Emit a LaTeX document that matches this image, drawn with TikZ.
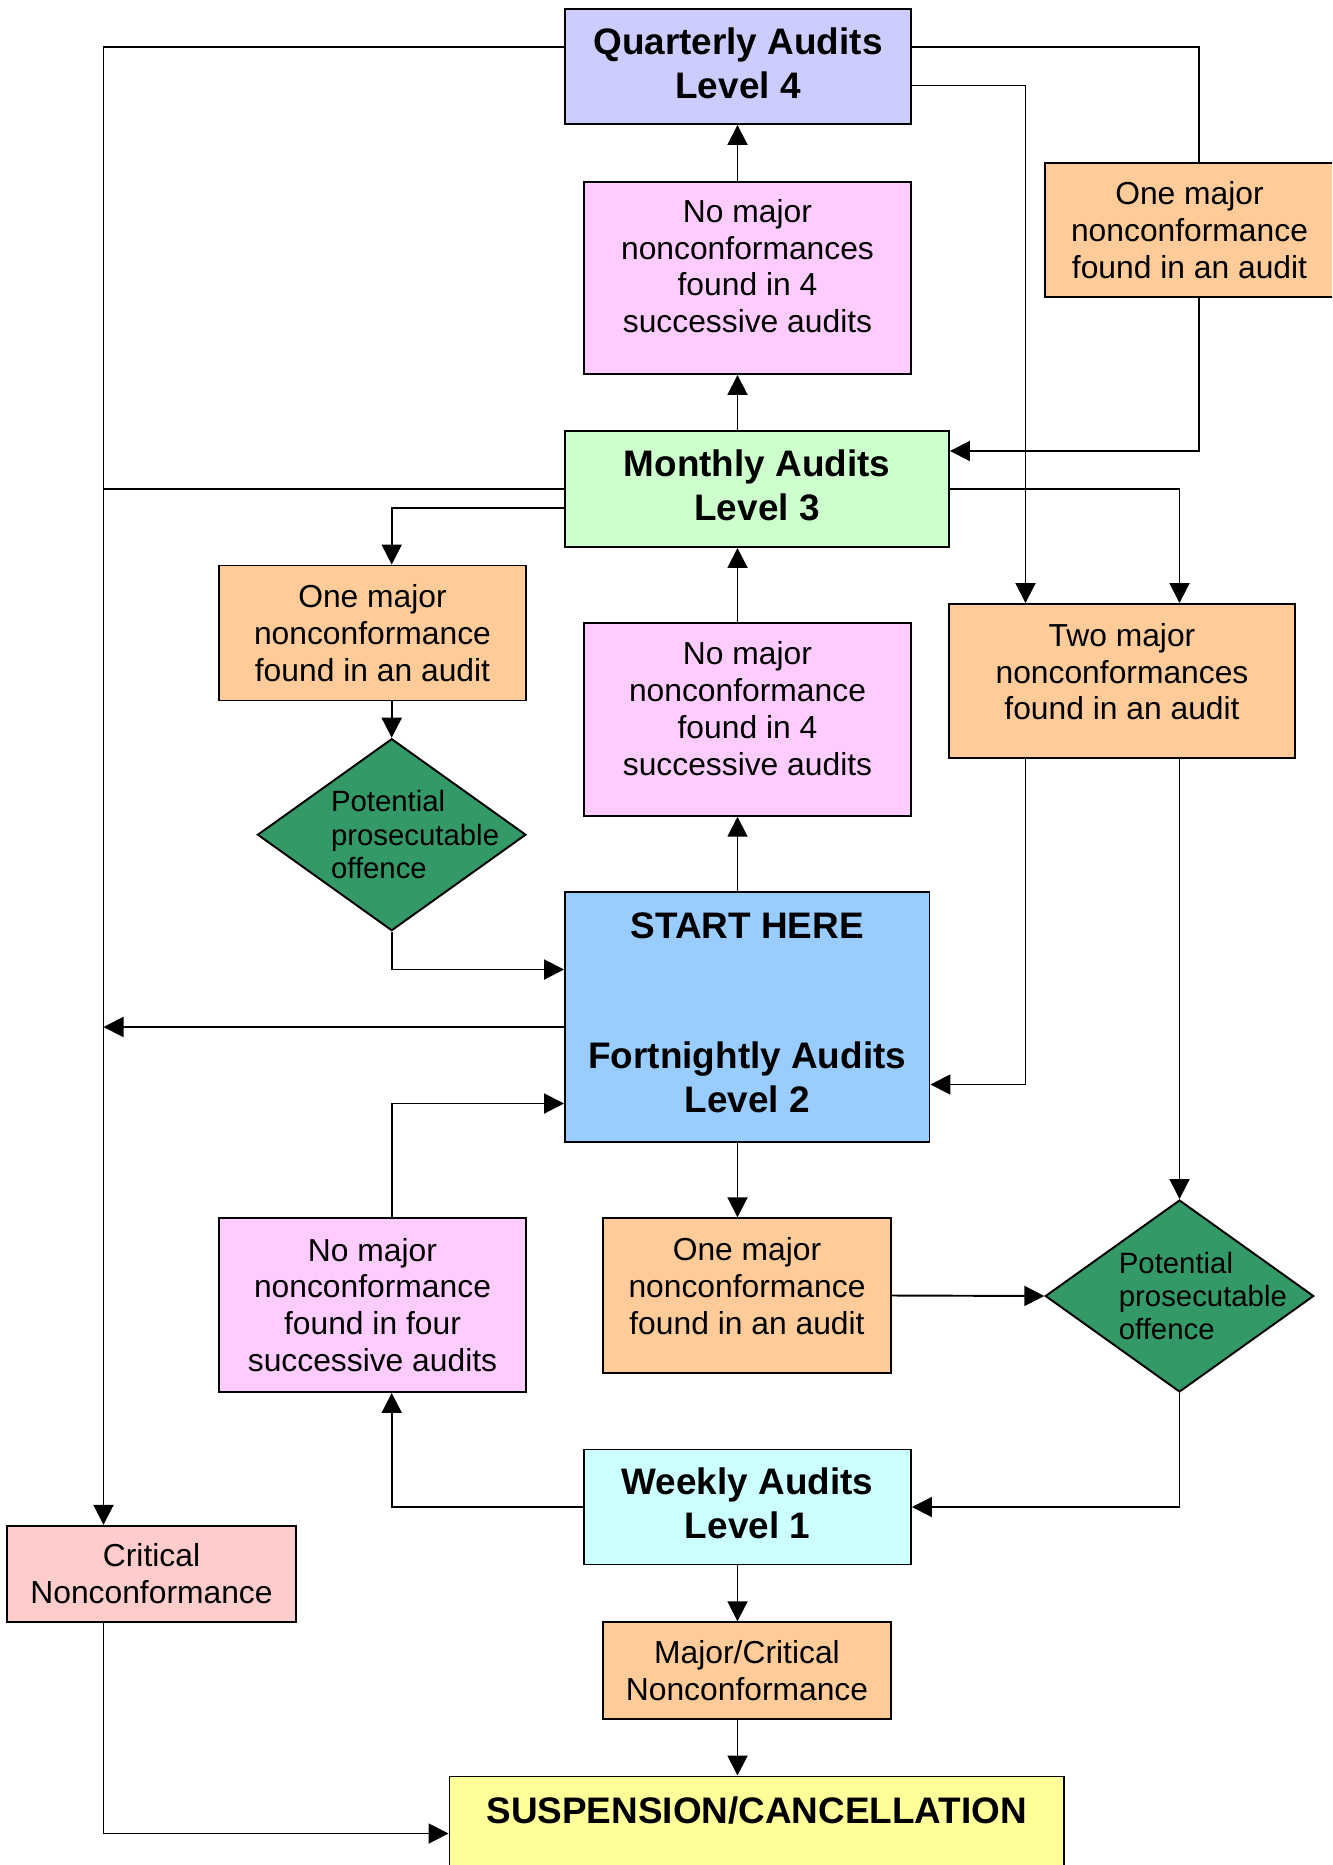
\documentclass[tikz,border=0pt]{standalone}
\usepackage{fontspec}
\setmainfont{Liberation Sans}
\usepackage{tikz}
\usetikzlibrary{shapes.geometric,arrows.meta}

\definecolor{quartcol}{HTML}{CCCCFF}
\definecolor{monthcol}{HTML}{CCFFCC}
\definecolor{fortcol}{HTML}{99CCFF}
\definecolor{weekcol}{HTML}{CCFFFF}
\definecolor{nonecol}{HTML}{FFCCFF}
\definecolor{majcol}{HTML}{FFCC99}
\definecolor{critcol}{HTML}{FFCCCC}
\definecolor{suspcol}{HTML}{FFFF99}
\definecolor{offcol}{HTML}{339966}

\newcommand{\txtfont}{\fontsize{18.1}{21}\selectfont}
\newcommand{\hdfont}{\fontsize{21}{25}\selectfont\bfseries}
\newcommand{\offfont}{\fontsize{16.7}{18.9}\selectfont}
% invisible strut to push a text block up a little
\newcommand{\lift}[1]{\rule[-#1]{0pt}{#1}}

\begin{document}
\begin{tikzpicture}[%
  box/.style={draw, line width=1.1pt, align=center, inner sep=0pt},
  txtbox/.style={box, font=\txtfont},
  hdbox/.style={box, font=\hdfont},
  offbox/.style={diamond, draw, line width=1.1pt, fill=offcol, inner sep=0pt,
    aspect=1.4, minimum width=5.37cm, minimum height=3.84cm},
  offtext/.style={anchor=west, align=left, inner sep=0pt, font=\offfont},
  wire/.style={line width=1.1pt},
  arr/.style={wire, -{Triangle[length=0.4cm, width=0.4cm]}}]

  \path[use as bounding box, clip] (0,0) rectangle (26.64,-37.30);

  % levels
  \node[hdbox, fill=quartcol, minimum width=6.92cm, minimum height=2.30cm] (q4) at (14.76,-1.33) {Quarterly Audits\\Level 4\lift{0.15cm}};
  \node[hdbox, fill=monthcol, minimum width=7.68cm, minimum height=2.32cm] (m3) at (15.14,-9.78) {Monthly Audits\\Level 3\lift{0.15cm}};
  \node[hdbox, fill=fortcol, minimum width=7.29cm, minimum height=5.00cm] (f2) at (14.945,-20.34) {START HERE\\[49pt]Fortnightly Audits\\Level 2\lift{0.16cm}};
  \node[hdbox, fill=weekcol, minimum width=6.54cm, minimum height=2.30cm] (w1) at (14.95,-30.14) {Weekly Audits\\Level 1\lift{0.15cm}};
  \node[hdbox, fill=suspcol, anchor=north, minimum width=12.29cm, text height=0.94cm, text depth=2.2cm] (sc) at (15.135,-35.51) {SUSPENSION/CANCELLATION};

  % conditions
  \node[txtbox, fill=nonecol, minimum width=6.54cm, minimum height=3.84cm] (nm4) at (14.95,-5.56) {No major\\nonconformances\\found in 4\\successive audits\lift{0.48cm}};
  \node[txtbox, fill=majcol, minimum width=6.20cm, minimum height=2.68cm] (om4) at (24.00,-4.60) {\hspace*{-0.42cm}One major\\\hspace*{-0.42cm}nonconformance\\\hspace*{-0.42cm}found in an audit};
  \node[txtbox, fill=majcol, minimum width=6.14cm, minimum height=2.70cm] (om3) at (7.45,-12.66) {One major\\nonconformance\\found in an audit};
  \node[txtbox, fill=nonecol, minimum width=6.54cm, minimum height=3.85cm] (nm3) at (14.95,-14.39) {No major\\nonconformance\\found in 4\\successive audits\lift{0.43cm}};
  \node[txtbox, fill=majcol, minimum width=6.92cm, minimum height=3.08cm] (tm3) at (22.44,-13.62) {Two major\\nonconformances\\found in an audit\lift{0.38cm}};
  \node[txtbox, fill=nonecol, minimum width=6.14cm, minimum height=3.48cm] (nm2) at (7.45,-26.10) {No major\\nonconformance\\found in four\\successive audits};
  \node[txtbox, fill=majcol, minimum width=5.76cm, minimum height=3.09cm] (om2) at (14.94,-25.91) {One major\\nonconformance\\found in an audit\lift{0.38cm}};
  \node[txtbox, fill=critcol, minimum width=5.78cm, minimum height=1.93cm] (cr) at (3.03,-31.48) {Critical\\Nonconformance};
  \node[txtbox, fill=majcol, minimum width=5.76cm, minimum height=1.93cm] (mc) at (14.94,-33.41) {Major/Critical\\Nonconformance};

  % offences
  \node[offbox] (pp3) at (7.834,-16.694) {};
  \node[offtext] (pp3t) at ([xshift=-1.22cm]pp3.center) {Potential\\prosecutable\\offence};
  \node[offbox] (pp2) at (23.59,-25.92) {};
  \node[offtext] (pp2t) at ([xshift=-1.22cm]pp2.center) {Potential\\prosecutable\\offence};

  % guide lines
  \coordinate (cx) at (14.75,0);
  \coordinate (lx) at (2.07,0);
  \coordinate (rx1) at (20.51,0);
  \coordinate (rx2) at (23.98,0);
  \coordinate (f2l) at ([yshift=-0.2cm]f2.west);

  % connectors
  \draw[arr] ([yshift=0.39cm]q4.west) -| (cr.north -| lx);
  \draw[wire] ([yshift=0.39cm]q4.east) -| (om4.north -| rx2);
  \draw[arr] (om4.south -| rx2) |- ([yshift=0.76cm]m3.east);
  \draw[arr] ([yshift=-0.38cm]q4.east) -| (tm3.north -| rx1);
  \draw[arr] (nm4.north -| cx) -- (q4.south -| cx);
  \draw[arr] (m3.north -| cx) -- (nm4.south -| cx);
  \draw[wire] (m3.west) -- (m3.west -| lx);
  \draw[arr] ([yshift=-0.38cm]m3.west) -| (om3.north -| pp3);
  \draw[arr] (m3.east) -| (tm3.north -| pp2);
  \draw[arr] (nm3.north -| cx) -- (m3.south -| cx);
  \draw[arr] (f2.north -| cx) -- (nm3.south -| cx);
  \draw[arr] (om3.south -| pp3) -- (pp3.north);
  \draw[arr] (pp3.south) |- ([yshift=0.95cm]f2.west);
  \draw[arr] (f2l) -- (f2l -| lx);
  \draw[arr] (tm3.south -| rx1) |- ([yshift=-1.35cm]f2.east);
  \draw[arr] (tm3.south -| pp2) -- (pp2.north);
  \draw[arr] (nm2.north -| pp3) |- ([yshift=-1.73cm]f2.west);
  \draw[arr] (f2.south -| cx) -- (om2.north -| cx);
  \draw[arr] (om2.east) -- (pp2.west);
  \draw[arr] (pp2.south) |- (w1.east);
  \draw[arr] (w1.west) -| (nm2.south -| pp3);
  \draw[arr] (w1.south -| cx) -- (mc.north -| cx);
  \draw[arr] (mc.south -| cx) -- (sc.north -| cx);
  \draw[arr] (cr.south -| lx) |- ([yshift=-1.16cm]sc.north west);
\end{tikzpicture}
\end{document}
